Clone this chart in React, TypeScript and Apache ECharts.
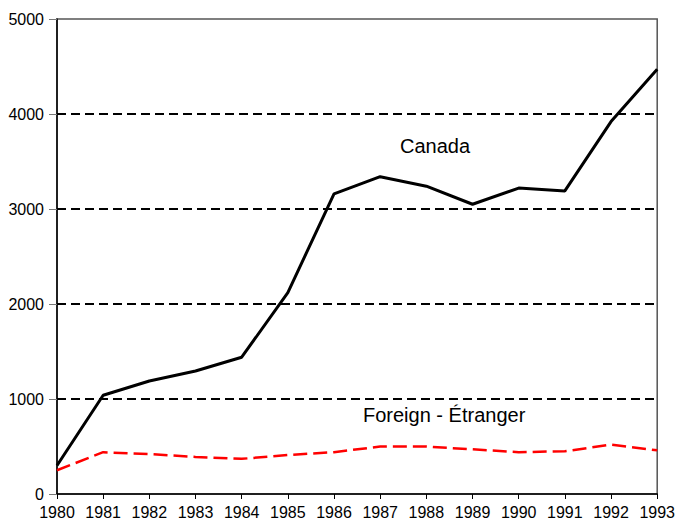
import React, { useEffect, useRef } from "react";
import * as echarts from "echarts";

const years = ["1980","1981","1982","1983","1984","1985","1986","1987","1988","1989","1990","1991","1992","1993"];
const canada = [300, 1040, 1190, 1295, 1440, 2120, 3160, 3340, 3240, 3050, 3220, 3190, 3920, 4470];
const foreign = [250, 440, 420, 390, 370, 410, 440, 500, 500, 470, 440, 450, 520, 460];
const seriesNames = ["Canada", "Foreign - Étranger"];

const FONT = "Liberation Sans, Arial, sans-serif";

export default function App() {
  const ref = useRef<HTMLDivElement>(null);
  useEffect(() => {
    document.body.style.margin = "0";
    const chart = echarts.init(ref.current!, null, { renderer: "svg" });
    chart.setOption({
      animation: false,
      backgroundColor: "#ffffff",
      grid: {
        left: 57, right: 17, top: 19, bottom: 26,
        show: true, borderColor: "#555555", borderWidth: 1.5,
      },
      xAxis: {
        type: "category",
        data: years,
        boundaryGap: false,
        axisLine: { lineStyle: { color: "#000", width: 1.5 } },
        axisTick: { show: true, length: 5, inside: false, interval: 0, lineStyle: { color: "#000" } },
        axisLabel: { color: "#000", fontSize: 16, fontFamily: FONT, margin: 10, interval: 0, hideOverlap: false },
        splitLine: { show: false },
      },
      yAxis: {
        type: "value",
        min: 0, max: 5000, interval: 1000,
        axisLine: { show: true, lineStyle: { color: "#000", width: 1.5 } },
        axisTick: { show: true, length: 8, lineStyle: { color: "#777" } },
        axisLabel: {
          color: "#000", fontSize: 16, fontFamily: FONT, margin: 13,
          formatter: (v: number) => String(v),
        },
        splitLine: {
          show: true, showMinLine: false, showMaxLine: false,
          lineStyle: { color: "#000", type: [9, 5], width: 2 },
        },
      },
      series: [
        {
          name: seriesNames[0], type: "line", data: canada, symbol: "none",
          lineStyle: { color: "#000", width: 3 }, z: 3,
        },
        {
          name: seriesNames[1], type: "line", data: foreign, symbol: "none",
          lineStyle: { color: "#ff0000", width: 2.5, type: [14, 6] }, z: 3,
        },
      ],
      graphic: [
        {
          type: "text", left: 400, top: 136,
          style: { text: seriesNames[0], font: `20px ${FONT}`, fill: "#000" },
        },
        {
          type: "text", left: 363, top: 405,
          style: { text: seriesNames[1], font: `20px ${FONT}`, fill: "#000" },
        },
      ],
    });
    return () => chart.dispose();
  }, []);
  return <div ref={ref} style={{ width: 678, height: 520 }} />;
}
